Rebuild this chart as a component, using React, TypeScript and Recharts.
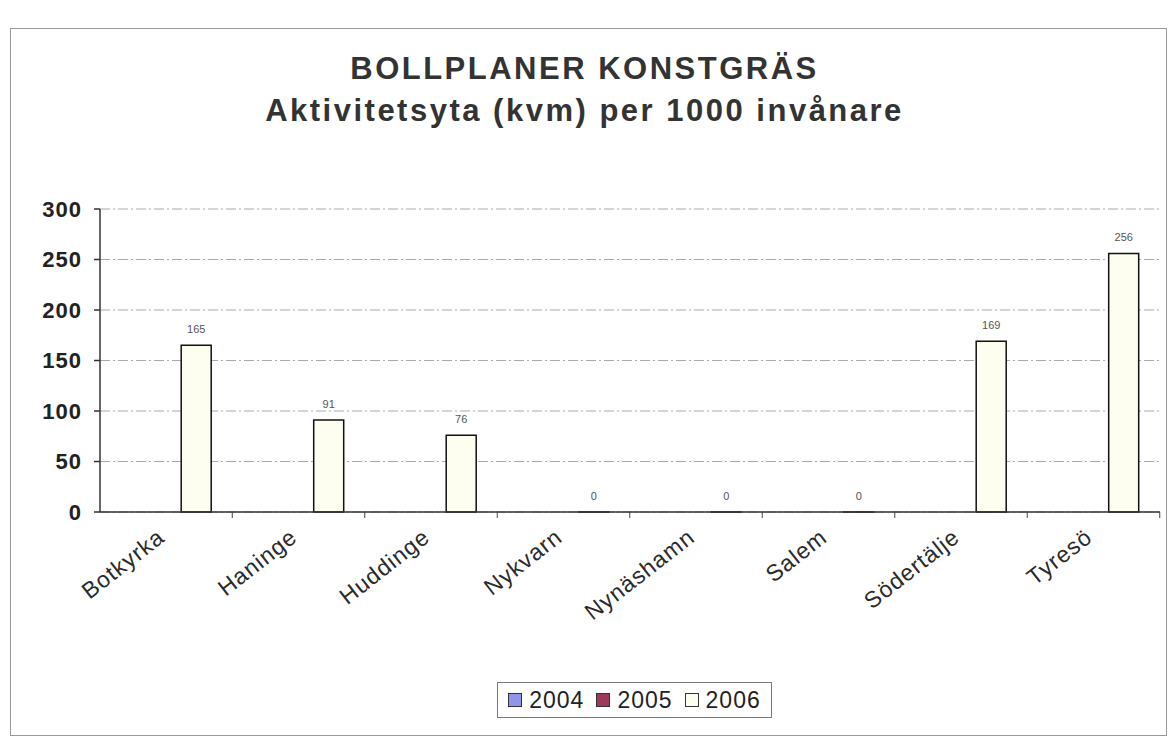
import { BarChart, Bar, XAxis, YAxis, CartesianGrid, Legend, LabelList } from 'recharts'

const KOMMUNER = ['Botkyrka', 'Haninge', 'Huddinge', 'Nykvarn', 'Nynäshamn', 'Salem', 'Södertälje', 'Tyresö']
const Y2004: (number | null)[] = [null, null, null, null, null, null, null, null]
const Y2005: (number | null)[] = [null, null, null, null, null, null, null, null]
const Y2006 = [165, 91, 76, 0, 0, 0, 169, 256]
const Y_TICKS = [0, 50, 100, 150, 200, 250, 300]

const SERIES = [
  { key: 'y2004', name: '2004', fill: '#8f95e8', stroke: '#333' },
  { key: 'y2005', name: '2005', fill: '#9b3a5a', stroke: '#333' },
  { key: 'y2006', name: '2006', fill: '#fdfdf0', stroke: '#111' },
]

const data = KOMMUNER.map((k, i) => ({
  kommun: k,
  y2004: Y2004[i],
  y2005: Y2005[i],
  y2006: Y2006[i],
}))

const FONT = '"Liberation Sans", Arial, sans-serif'

function XTick({ x, y, payload }: any) {
  return (
    <g transform={`translate(${x},${y})`}>
      <line x1={66} x2={66} y1={0} y2={6} stroke="#444" />
      <text
        x={0}
        y={28}
        transform="rotate(-38, 0, 28)"
        textAnchor="end"
        fontSize={23}
        letterSpacing={1}
        fontFamily={FONT}
        fill="#2a2a2a"
      >
        {payload.value}
      </text>
    </g>
  )
}

function LegendBox() {
  return (
    <div
      style={{
        border: '1px solid #777',
        display: 'flex',
        alignItems: 'center',
        justifyContent: 'center',
        height: 34,
        fontFamily: FONT,
        fontSize: 23,
        letterSpacing: 1,
        color: '#222',
        background: '#fff',
        gap: 12,
      }}
    >
      {SERIES.map((s) => (
        <span key={s.key} style={{ display: 'flex', alignItems: 'center' }}>
          <span
            style={{
              display: 'inline-block',
              width: 12,
              height: 12,
              background: s.fill,
              border: '1px solid #333',
              marginRight: 7,
            }}
          />
          {s.name}
        </span>
      ))}
    </div>
  )
}

export default function App() {
  return (
    <div style={{ position: 'absolute', left: 0, top: 0, width: 1169, height: 738, background: '#fff' }}>
      <div
        style={{
          position: 'absolute',
          left: 10,
          top: 28,
          width: 1155,
          height: 706,
          border: '1px solid #999',
        }}
      />
      <div
        style={{
          position: 'absolute',
          left: 0,
          top: 48,
          width: 1169,
          textAlign: 'center',
          fontFamily: FONT,
          fontWeight: 'bold',
          fontSize: 31,
          letterSpacing: 2.5,
          color: '#333',
          lineHeight: '42px',
        }}
      >
        <div>BOLLPLANER KONSTGRÄS</div>
        <div>Aktivitetsyta (kvm) per 1000 invånare</div>
      </div>
      <BarChart
        width={1169}
        height={738}
        data={data}
        margin={{ top: 209, right: 9, bottom: 40, left: 10 }}
        barCategoryGap="16%"
        barGap={0}
        style={{ position: 'absolute', left: 0, top: 0 }}
      >
        <CartesianGrid vertical={false} stroke="#aaa" strokeDasharray="10 3 2 3" />
        <XAxis
          dataKey="kommun"
          height={150}
          interval={0}
          tickSize={0}
          tickMargin={0}
          stroke="#333"
          strokeWidth={1.5}
          tick={<XTick />}
        />
        <YAxis
          domain={[0, 300]}
          ticks={Y_TICKS}
          width={90}
          stroke="#333"
          strokeWidth={1.5}
          tickSize={6}
          tick={{ fontSize: 22, fontWeight: 'bold', fill: '#222', fontFamily: FONT, dx: -10, letterSpacing: 1 }}
        />
        <Legend
          content={<LegendBox />}
          wrapperStyle={{ left: 497, top: 682, width: 275 }}
        />
        {SERIES.map((s) => (
          <Bar
            key={s.key}
            dataKey={s.key}
            name={s.name}
            fill={s.fill}
            stroke={s.stroke}
            strokeWidth={1.5}
            minPointSize={s.key === 'y2006' ? (v: any) => (v === 0 ? 0.01 : 0) : 0}
            isAnimationActive={false}
          >
            {s.key === 'y2006' && (
              <LabelList dataKey={s.key} position="top" offset={12} fontSize={11} fill="#555" fontFamily={FONT} />
            )}
          </Bar>
        ))}
      </BarChart>
    </div>
  )
}
